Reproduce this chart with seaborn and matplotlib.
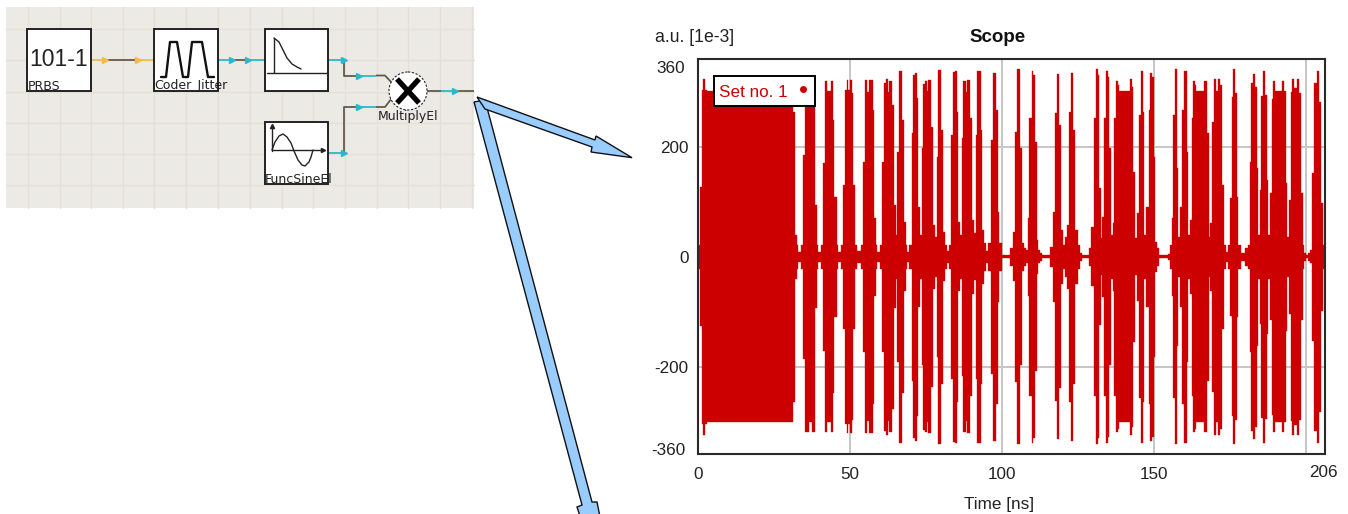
import numpy as np
import pandas as pd
import matplotlib
matplotlib.use("Agg")
import matplotlib.pyplot as plt
from matplotlib.lines import Line2D
from matplotlib.patches import Polygon, Rectangle, Circle
import seaborn as sns

# Envelope of the scope trace: step start times [ns] and amplitude [1e-3 a.u.]
env_time = [0.0,0.55,1.1,1.65,2.2,2.75,31.25,31.8,32.35,32.9,33.8,34.55,
            35.1,36.4,37.3,38.4,38.9,39.5,40.4,41.1,41.7,42.4,43.5,44.2,44.7,
            45.5,46.1,46.9,47.7,48.2,48.8,49.35,49.9,50.45,51.0,51.55,52.1,53.4,54.1,
            54.7,55.6,56.3,57.35,57.9,58.45,58.9,59.8,60.5,61.1,61.75,62.3,62.85,63.7,
            64.3,64.9,65.5,66.0,67.1,67.65,68.2,68.75,69.4,70.2,70.7,71.3,71.8,72.4,
            72.9,73.5,74.0,74.6,75.1,75.7,76.55,77.1,77.9,78.4,79.0,79.8,80.6,81.15,
            81.7,82.5,83.1,83.7,84.45,85.0,85.55,86.2,86.65,87.2,88.1,88.5,89.4,89.9,
            90.7,91.25,91.8,92.9,93.4,94.1,94.6,95.4,96.2,96.8,97.9,98.5,99.0,99.8,
            102.5,103.6,104.2,104.85,105.95,106.5,107.05,107.7,108.35,108.9,109.7,110.2,
            110.8,111.3,111.85,112.5,113.0,115.7,116.8,117.35,117.9,118.8,119.3,120.1,
            120.6,121.3,122.0,122.6,123.4,123.9,124.8,125.6,126.1,128.5,129.2,130.3,
            130.7,131.4,131.9,132.5,132.9,133.5,134.0,134.7,135.2,135.8,136.3,136.9,
            137.4,138.0,138.5,142.0,142.6,143.1,143.7,144.3,145.0,145.5,146.2,146.7,
            147.4,148.2,148.7,149.25,149.8,150.2,150.8,151.6,154.6,155.1,155.7,156.2,
            156.8,157.4,157.9,158.65,159.2,159.9,160.7,161.2,161.7,162.3,162.8,163.4,
            163.9,166.4,167.4,167.9,168.4,169.1,169.6,170.5,171.0,171.8,172.4,172.9,
            173.5,174.3,175.0,175.5,176.0,176.6,177.2,177.7,178.4,180.0,180.9,181.5,
            182.0,182.6,183.2,183.8,184.3,184.9,185.3,185.85,186.5,187.0,187.5,188.0,
            188.6,189.1,189.7,192.1,192.75,193.3,193.85,194.4,194.95,195.5,196.05,196.9,
            197.7,198.2,198.8,199.3,200.1,200.65,201.3,202.0,202.5,203.7,204.3,204.8,
            205.4,206.2]
env_amp = [22,127,304,324,304,302,264,40,22,9,22,186,
           320,302,320,94,22,9,22,171,320,302,320,249,109,
           22,9,22,131,304,322,304,322,298,131,22,11,22,173,
           322,300,322,268,71,22,9,22,173,317,324,300,320,277,
           94,40,191,339,249,63,22,9,22,226,331,335,290,91,
           40,198,315,320,302,322,237,58,36,182,341,231,45,22,
           11,22,222,337,339,264,63,40,217,320,300,322,253,67,
           43,222,339,231,49,25,11,25,213,335,268,82,25,3,
           16,45,228,342,198,25,16,12,71,253,339,331,
           209,31,12,7,3,18,82,262,333,240,49,22,
           36,58,264,335,231,49,22,7,3,16,54,253,
           342,331,125,34,73,253,339,328,198,40,62,253,
           320,313,302,324,310,155,34,80,258,339,264,40,
           91,268,335,328,182,27,16,3,5,22,71,258,
           342,162,36,91,268,339,191,40,67,253,320,313,
           302,320,226,36,62,246,324,302,324,313,131,22,
           9,22,107,291,342,298,109,22,7,16,22,173,
           317,333,310,162,40,122,293,339,295,140,40,116,
           288,320,302,320,302,135,36,104,300,324,307,324,
           298,116,22,7,3,7,12,153,317,339,282,98,
           22,22]

x_ticks = [0, 50, 100, 150, 200]
x_tick_labels = ["0", "50", "100", "150", ""]
y_ticks = [-200, 0, 200]
y_tick_labels = ["-200", "0", "200"]
x_max = 206.2
y_max = 360

sns.set_theme(style="white")
plt.rcParams["font.family"] = ["Liberation Sans", "DejaVu Sans"]

W, H = 1348, 514
fig = plt.figure(figsize=(W / 100, H / 100), dpi=100, facecolor="white")

RED = "#CC0000"
df = pd.DataFrame({"time": env_time, "amp": env_amp})
df["low"] = -df["amp"]

# ---------- scope ----------
L, R, T, B = 698.3, 1325, 59.3, 454.3
ax = fig.add_axes([L / W, 1 - B / H, (R - L) / W, (B - T) / H])
ax.grid(False)
for v in x_ticks[1:]:
    ax.axvline(v, color="#C6C6C6", lw=1.4, zorder=1)
for v in y_ticks:
    ax.axhline(v, color="#C6C6C6", lw=1.4, zorder=1)
ax.fill_between(df["time"], df["low"], df["amp"], step="post", color=RED, lw=0, zorder=2)
sns.lineplot(data=df, x="time", y="amp", drawstyle="steps-post", color=RED, lw=0.25,
             estimator=None, ax=ax, zorder=3)
sns.lineplot(data=df, x="time", y="low", drawstyle="steps-post", color=RED, lw=0.25,
             estimator=None, ax=ax, zorder=3)
ax.set_xlim(0, x_max)
ax.set_ylim(-y_max, y_max)
ax.set_xticks(x_ticks, x_tick_labels)
ax.set_yticks(y_ticks, y_tick_labels)
ax.tick_params(axis="both", direction="in", length=5, width=1.2, color="#222222",
               labelsize=12.3, labelcolor="#222222", pad=9)
ax.tick_params(axis="y", pad=7)
ax.set_xlabel("")
ax.set_ylabel("")
for s, sp in ax.spines.items():
    sp.set_visible(True)
    sp.set_color("#2A2A2A")
    sp.set_linewidth(1.5)
ax.annotate("360", (0, 360), xytext=(-9.5, -6.5), textcoords="offset points", ha="right",
            va="center", fontsize=12.3, color="#222222", annotation_clip=False)
ax.annotate("-360", (0, -360), xytext=(-9, 3), textcoords="offset points", ha="right",
            va="center", fontsize=12.3, color="#222222", annotation_clip=False)
ax.annotate("206", (x_max, -360), xytext=(-1, -13), textcoords="offset points", ha="center",
            va="center", fontsize=12.3, color="#222222", annotation_clip=False)

handle = Line2D([], [], color=RED, marker="o", ms=4, ls="none")
leg = ax.legend([handle], ["Set no. 1"], loc="upper left", markerfirst=False,
                bbox_to_anchor=((714 - L) / (R - L), 1 - (76 - T) / (B - T)),
                fancybox=False, framealpha=1, edgecolor="black", fontsize=12.3,
                labelcolor=RED, borderaxespad=0, handlelength=0.85, handletextpad=0.45,
                borderpad=0.3, handleheight=1.4)
leg.get_frame().set_linewidth(1.4)
leg.set_zorder(10)

# ---------- page layer (pixel coordinates): diagram, arrows, captions ----------
pg = fig.add_axes([0, 0, 1, 1], facecolor="none")
pg.set_xlim(0, W)
pg.set_ylim(H, 0)
pg.axis("off")

pg.add_patch(Rectangle((6, 7), 468, 201, fc="#ECEAE4", ec="none", zorder=1))
for gx in [27.5, 59.5, 91, 122.5, 154, 186, 218, 250, 281.5, 313, 344.5, 376.5, 407.5, 439.5, 471.5]:
    pg.plot([gx, gx], [7, 208], color="#E2E0D9", lw=1, zorder=1.1)
for gy in [29, 60, 92, 123, 154, 185]:
    pg.plot([6, 474], [gy, gy], color="#E2E0D9", lw=1, zorder=1.1)

ORANGE, CYAN, BROWN = "#F5B94A", "#2FB6CC", "#66584C"


def wire(xs, ys, c, lw=1.3):
    pg.plot(xs, ys, color=c, lw=lw, zorder=2, solid_capstyle="butt")


def chevron(x, y, c):
    pg.plot([x], [y], marker=">", ms=4.5, mfc=c, mec=c, ls="none", zorder=2.2)


wire([91, 107], [60, 60], ORANGE); wire([107, 140], [60, 60], BROWN); wire([140, 154], [60, 60], ORANGE)
chevron(105, 60, ORANGE); chevron(138, 60, ORANGE)
wire([218, 232], [60, 60], CYAN); wire([232, 247], [60, 60], BROWN); wire([247, 265], [60, 60], CYAN)
chevron(232, 60, CYAN); chevron(248, 60, CYAN)
wire([328, 345], [60, 60], CYAN); chevron(344, 60, CYAN)
wire([344, 344, 358], [60, 75.5, 75.5], BROWN); wire([358, 376], [75.5, 75.5], CYAN)
wire([376, 385, 393], [75.5, 75.5, 84], BROWN); chevron(359, 75.5, CYAN)
wire([328, 345], [153, 153], CYAN); chevron(344, 153, CYAN)
wire([344, 344, 358], [153, 107, 107], BROWN); wire([358, 376], [107, 107], CYAN)
wire([376, 385, 392], [107, 107, 98], BROWN); chevron(359, 107, CYAN)
wire([427, 441], [91, 91], BROWN); wire([441, 457], [91, 91], CYAN); wire([457, 474], [91, 91], BROWN)
chevron(455, 91, CYAN)

for (x0, y0, x1, y1) in [(27, 29, 91, 91), (154, 29, 218, 91), (265, 29, 328, 91), (265, 122, 328, 184)]:
    pg.add_patch(Rectangle((x0, y0), x1 - x0, y1 - y0, fc="white", ec="#222222", lw=1.4, zorder=3))

pg.text(58.5, 60, "101-1", fontsize=16.5, ha="center", va="center", color="#222222", zorder=4)
# pulse icon
pg.plot([161, 166, 170, 177, 183, 188, 192, 202, 208, 214],
        [77, 77, 42, 42, 77, 77, 42, 42, 77, 77], color="#111111", lw=1.7, zorder=4)
# decay icon
pg.plot([267, 327], [73, 73], color="#222222", lw=1, zorder=4)
pg.plot([274, 274], [38, 73], color="#222222", lw=1, zorder=4)
pg.plot([274, 279, 283, 287, 292, 297, 301], [38, 42, 50, 58, 64, 67, 69], color="#222222", lw=1, zorder=4)
# sine icon
pg.plot([272, 272], [126, 151], color="#222222", lw=1, zorder=4)
pg.plot([272, 323], [150, 150], color="#222222", lw=1, zorder=4)
pg.plot([323], [150], marker=">", ms=3, color="#222222", zorder=4)
pg.plot([272], [126], marker="^", ms=3, color="#222222", zorder=4)
pg.plot([272, 275, 279, 283, 287, 291, 294, 298, 302, 305, 309, 311, 313],
        [150, 142, 136, 134, 137, 143, 151, 160, 165, 166, 162, 157, 150], color="#222222", lw=1, zorder=4)
# multiplier
pg.add_patch(Circle((408, 91), 19, fc="white", ec="#222222", lw=0.8, ls=(0, (2, 1.5)), zorder=3))
pg.plot([397, 419], [79, 103], color="black", lw=3.8, zorder=4, solid_capstyle="butt")
pg.plot([397, 419], [103, 79], color="black", lw=3.8, zorder=4, solid_capstyle="butt")

for x, y, s in [(28, 86, "PRBS"), (154, 86, "Coder_Jitter"), (378, 116.5, "MultiplyEl"), (265, 179.5, "FuncSineEl")]:
    pg.text(x, y, s, fontsize=9, family="DejaVu Sans", ha="left", va="center", color="#222222", zorder=5)

# arrows
BLUE = "#99CCFF"
pg.add_patch(Polygon([(474, 102), (485, 100), (592, 502), (597, 502), (601, 522), (582, 522), (577, 507), (582, 505)],
                     fc=BLUE, ec="#111111", lw=1, zorder=6))
pg.add_patch(Polygon([(477, 97), (595, 140), (596, 136), (632, 157.7), (591, 152), (592, 147), (485, 109)],
                     fc=BLUE, ec="#111111", lw=1, zorder=6))

# captions
pg.text(998, 37, "Scope", fontsize=13.5, fontweight="bold", ha="center", va="center", color="#111111")
pg.text(655, 37.5, "a.u. [1e-3]", fontsize=12.7, ha="left", va="center", color="#222222")
pg.text(999, 505, "Time [ns]", fontsize=12.3, ha="center", va="center", color="#222222")

fig.savefig("out.png", dpi=100, facecolor="white")
